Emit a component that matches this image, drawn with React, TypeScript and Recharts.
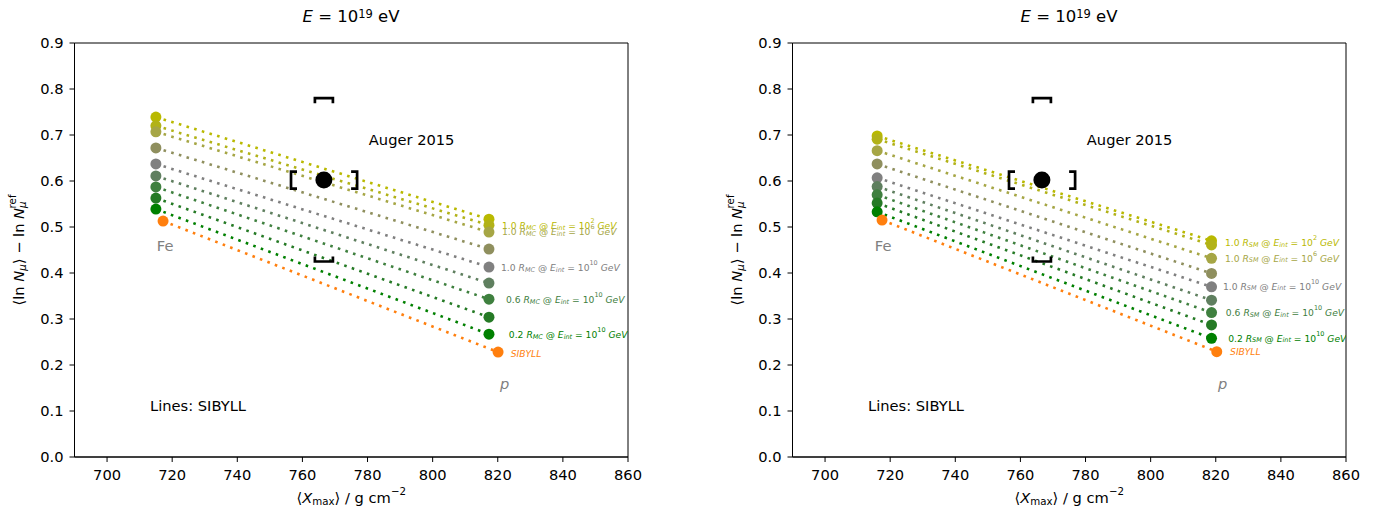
import React from 'react';
import { ScatterChart, Scatter, XAxis, YAxis, ReferenceArea, Label } from 'recharts';

const FONT = 'DejaVu Sans';

// axes
const xTicks = [700, 720, 740, 760, 780, 800, 820, 840, 860];
const yTicks = [0, 0.1, 0.2, 0.3, 0.4, 0.5, 0.6, 0.7, 0.8, 0.9];

// 10 series: R=1.0 at E_int 1e2..1e10, then R=0.8..0.2 at 1e10, then plain SIBYLL
const seriesColors = [
  '#b9b900', '#b2b218', '#a6a645', '#8f8f5e', '#808080',
  '#5f7f5f', '#3f803f', '#257a25', '#008000', '#ff7f0e',
];

// left panel (R_MC)
const leftFeX = [715.0, 715.0, 715.0, 715.0, 715.0, 715.0, 715.0, 715.0, 715.0, 717.2];
const leftFeY = [0.739, 0.72, 0.707, 0.672, 0.637, 0.611, 0.587, 0.563, 0.539, 0.513];
const leftPX = [817.3, 817.3, 817.3, 817.3, 817.3, 817.3, 817.3, 817.3, 817.3, 820.1];
const leftPY = [0.517, 0.504, 0.489, 0.452, 0.413, 0.378, 0.343, 0.304, 0.267, 0.228];

// right panel (R_SM)
const rightFeX = [716.0, 716.0, 716.0, 716.0, 716.0, 716.0, 716.0, 716.0, 716.0, 717.5];
const rightFeY = [0.698, 0.691, 0.666, 0.637, 0.607, 0.588, 0.57, 0.552, 0.533, 0.515];
const rightPX = [818.7, 818.7, 818.7, 818.7, 818.7, 818.7, 818.7, 818.7, 818.7, 820.3];
const rightPY = [0.47, 0.461, 0.432, 0.399, 0.37, 0.341, 0.314, 0.287, 0.258, 0.229];

// Auger 2015 point + systematic brackets
const augerX = 766.6;
const augerY = 0.602;
const augerSysX = [756.5, 776.8];
const augerSysY = [0.425, 0.78];

// series labels near the p end: [coef, exponent, series index]
const labelDefs: [string, string, number][] = [
  ['1.0', '2', 0],
  ['1.0', '6', 2],
  ['1.0', '10', 4],
  ['0.6', '10', 6],
  ['0.2', '10', 8],
];
const leftLabelX = [821.3, 821.3, 821.0, 822.5, 823.4, 824.0];
const leftLabelY = [0.504, 0.491, 0.413, 0.343, 0.267, 0.226];
const rightLabelX = [822.8, 822.8, 822.2, 823.1, 823.8, 824.4];
const rightLabelY = [0.467, 0.433, 0.372, 0.315, 0.259, 0.23];

type Part = { t: string; it?: boolean; sub?: boolean; sup?: boolean; dx?: number };

function MathText({ x, y, parts, size, fill = '#000', anchor = 'start', baseline = 'central', rotate = false }: any) {
  let shift = 0;
  const spans = parts.map((p: Part, i: number) => {
    const target = p.sub ? size * 0.28 : p.sup ? -size * 0.42 : 0;
    const dy = target - shift;
    shift = target;
    return (
      <tspan
        key={i}
        dy={dy}
        dx={p.dx}
        fontSize={p.sub || p.sup ? size * 0.7 : size}
        fontStyle={p.it ? 'italic' : 'normal'}
      >
        {p.t}
      </tspan>
    );
  });
  return (
    <text
      x={x}
      y={y}
      fill={fill}
      fontFamily={FONT}
      fontSize={size}
      textAnchor={anchor}
      dominantBaseline={baseline}
      transform={rotate ? `rotate(-90, ${x}, ${y})` : undefined}
      style={{ whiteSpace: 'pre' }}
    >
      {spans}
    </text>
  );
}

const seriesLabel = (coef: string, sub: string, exp: string): Part[] => [
  { t: coef + ' ' },
  { t: 'R', it: true },
  { t: sub, sub: true, it: true },
  { t: ' @ ' },
  { t: 'E', it: true },
  { t: 'int', sub: true, it: true },
  { t: ' = 10' },
  { t: exp, sup: true },
  { t: ' ' },
  { t: 'GeV', it: true },
];

const Dot = (r: number) => (props: any) => {
  const { cx, cy, fill } = props;
  return <circle cx={cx} cy={cy} r={r} fill={fill} />;
};

const Bracket = (props: any) => {
  const { cx, cy, payload } = props;
  const k = payload.kind;
  let d = '';
  if (k === 'top') d = `M${cx - 9} ${cy + 5} L${cx - 9} ${cy} L${cx + 9} ${cy} L${cx + 9} ${cy + 5}`;
  if (k === 'bottom') d = `M${cx - 9} ${cy - 5} L${cx - 9} ${cy} L${cx + 9} ${cy} L${cx + 9} ${cy - 5}`;
  if (k === 'left') d = `M${cx + 6} ${cy - 8.5} L${cx} ${cy - 8.5} L${cx} ${cy + 8.5} L${cx + 6} ${cy + 8.5}`;
  if (k === 'right') d = `M${cx - 6} ${cy - 8.5} L${cx} ${cy - 8.5} L${cx} ${cy + 8.5} L${cx - 6} ${cy + 8.5}`;
  return <path d={d} stroke="#000" strokeWidth={2.7} fill="none" />;
};

const TextShape = (props: any) => {
  const { cx, cy, payload } = props;
  return (
    <MathText
      x={cx}
      y={cy}
      parts={payload.parts}
      size={payload.size}
      fill={payload.color}
      anchor={payload.anchor || 'start'}
    />
  );
};

const yLabelParts: Part[] = [
  { t: '⟨ln ' },
  { t: 'N', it: true },
  { t: 'μ', sub: true, it: true },
  { t: '⟩ − ln ' },
  { t: 'N', it: true },
  { t: 'μ', sub: true, it: true },
  { t: 'ref', sup: true, dx: -7 },
];

const xLabelParts: Part[] = [
  { t: '⟨' },
  { t: 'X', it: true },
  { t: 'max', sub: true },
  { t: '⟩ / g cm' },
  { t: '−2', sup: true },
];

function Panel({ feX, feY, pX, pY, labX, labY, sub, width, marginRight }: any) {
  const texts = [
    ...labelDefs.map(([coef, exp, si], i) => ({
      x: labX[i], y: labY[i], parts: seriesLabel(coef, sub, exp), size: 9.2, color: seriesColors[si],
    })),
    { x: labX[5], y: labY[5], parts: [{ t: 'SIBYLL', it: true }], size: 9.2, color: seriesColors[9] },
    { x: 780.4, y: 0.692, parts: [{ t: 'Auger 2015' }], size: 14.67, color: '#000' },
    { x: 715.3, y: 0.46, parts: [{ t: 'Fe' }], size: 14.67, color: '#808080' },
    { x: 820.7, y: 0.16, parts: [{ t: 'p', it: true }], size: 14.67, color: '#808080' },
    { x: 713.2, y: 0.114, parts: [{ t: 'Lines: SIBYLL' }], size: 14.67, color: '#000' },
  ];
  const brackets = [
    { x: augerX, y: augerSysY[1], kind: 'top' },
    { x: augerX, y: augerSysY[0], kind: 'bottom' },
    { x: augerSysX[0], y: augerY, kind: 'left' },
    { x: augerSysX[1], y: augerY, kind: 'right' },
  ];
  return (
    <ScatterChart
      width={width}
      height={517}
      margin={{ top: 43, right: marginRight, bottom: 20, left: 24.5 }}
    >
      <XAxis
        type="number"
        dataKey="x"
        domain={[690, 860]}
        ticks={xTicks}
        allowDataOverflow
        height={40}
        tickSize={5}
        tickMargin={8}
        stroke="#000"
        tick={{ fill: '#000', fontSize: 14.67, fontFamily: FONT }}
      >
        <Label
          content={(p: any) => {
            const vb = p.viewBox;
            return (
              <MathText x={vb.x + vb.width / 2} y={vb.y + 40} parts={xLabelParts} size={14.67} anchor="middle" />
            );
          }}
        />
      </XAxis>
      <YAxis
        type="number"
        dataKey="y"
        domain={[0, 0.9]}
        ticks={yTicks}
        allowDataOverflow
        width={50}
        tickSize={5}
        tickMargin={6}
        stroke="#000"
        tickFormatter={(v: number) => v.toFixed(1)}
        tick={{ fill: '#000', fontSize: 14.67, fontFamily: FONT }}
      >
        <Label
          content={(p: any) => {
            const vb = p.viewBox;
            return (
              <MathText x={18} y={vb.y + vb.height / 2} parts={yLabelParts} size={14.67} anchor="middle" rotate />
            );
          }}
        />
      </YAxis>
      <ReferenceArea x1={690} x2={860} y1={0} y2={0.9} fill="none" stroke="#000" strokeWidth={1} />
      {seriesColors.map((c, i) => (
        <Scatter
          key={i}
          data={[
            { x: feX[i], y: feY[i] },
            { x: pX[i], y: pY[i] },
          ]}
          fill={c}
          line={{ stroke: c, strokeWidth: 2.6, strokeDasharray: '2.6 5.4' }}
          shape={Dot(5.5)}
          isAnimationActive={false}
        />
      ))}
      <Scatter data={[{ x: augerX, y: augerY }]} fill="#000" shape={Dot(8.5)} isAnimationActive={false} />
      <Scatter data={brackets} fill="#000" shape={Bracket} isAnimationActive={false} />
      <Scatter data={texts} fill="#000" shape={TextShape} isAnimationActive={false} />
    </ScatterChart>
  );
}

const Title = ({ left }: { left: number }) => (
  <div
    style={{
      position: 'absolute',
      left: left - 100,
      top: 6,
      width: 200,
      textAlign: 'center',
      fontFamily: FONT,
      fontSize: 16.5,
      lineHeight: '22px',
      whiteSpace: 'nowrap',
    }}
  >
    <i>E</i> = 10<span style={{ fontSize: 11.5, verticalAlign: 'top', position: 'relative', top: -3 }}>19</span> eV
  </div>
);

export default function App() {
  return (
    <div style={{ position: 'absolute', left: 0, top: 0, width: 1383, height: 517, background: '#fff' }}>
      <div style={{ position: 'absolute', left: 0, top: 0 }}>
        <Panel
          feX={leftFeX}
          feY={leftFeY}
          pX={leftPX}
          pY={leftPY}
          labX={leftLabelX}
          labY={leftLabelY}
          sub="MC"
          width={700}
          marginRight={72}
        />
      </div>
      <div style={{ position: 'absolute', left: 718, top: 0 }}>
        <Panel
          feX={rightFeX}
          feY={rightFeY}
          pX={rightPX}
          pY={rightPY}
          labX={rightLabelX}
          labY={rightLabelY}
          sub="SM"
          width={665}
          marginRight={37}
        />
      </div>
      <Title left={351} />
      <Title left={1069} />
    </div>
  );
}
